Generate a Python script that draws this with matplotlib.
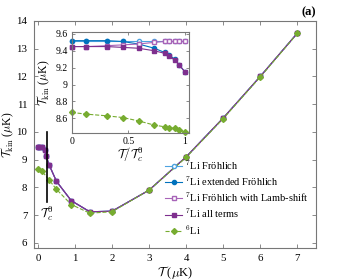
import matplotlib
matplotlib.use('Agg')
import matplotlib.pyplot as plt

plt.rcParams['font.family'] = 'serif'
plt.rcParams['font.serif'] = ['Liberation Serif', 'DejaVu Serif']
plt.rcParams['mathtext.fontset'] = 'cm'

# main panel data (T in muK)
T_li7 = [0, 0.04, 0.1, 0.18, 0.22, 0.3, 0.5, 0.9, 1.4, 2, 3, 4, 5, 6, 7]
li7_froh = [9.45, 9.45, 9.45, 9.36, 9.13, 8.82, 8.22, 7.52, 7.12, 7.14, 7.9, 9.1, 10.5, 12.0, 13.56]
li7_ext = [9.45, 9.45, 9.45, 9.36, 9.13, 8.82, 8.22, 7.52, 7.12, 7.14, 7.9, 9.1, 10.5, 12.0, 13.56]
li7_lamb = [9.45, 9.45, 9.45, 9.36, 9.13, 8.82, 8.22, 7.52, 7.12, 7.14, 7.9, 9.1, 10.5, 12.0, 13.56]
li7_all = [9.45, 9.45, 9.45, 9.36, 9.13, 8.82, 8.22, 7.52, 7.12, 7.14, 7.9, 9.1, 10.5, 12.0, 13.56]
T_li6 = [0, 0.1, 0.3, 0.5, 0.9, 1.4, 2, 3, 4, 5, 6, 7]
li6 = [8.68, 8.6, 8.27, 7.93, 7.38, 7.07, 7.12, 7.9, 9.08, 10.48, 11.98, 13.55]
Tc0 = 0.24

# inset data (T / Tc0)
r = [0, 0.13, 0.31, 0.45, 0.59, 0.73, 0.82, 0.86, 0.91, 0.95, 1.0]
in_froh = [9.52, 9.52, 9.52, 9.52, 9.52, 9.52, 9.52, 9.52, 9.52, 9.52, 9.52]
in_ext = [9.52, 9.52, 9.52, 9.51, 9.48, 9.43, 9.38, 9.35, 9.30, 9.23, 9.15]
in_lamb = [9.45, 9.45, 9.46, 9.47, 9.48, 9.50, 9.51, 9.51, 9.51, 9.51, 9.51]
in_all = [9.45, 9.45, 9.45, 9.44, 9.43, 9.40, 9.37, 9.34, 9.29, 9.23, 9.15]
in_li6 = [8.67, 8.65, 8.63, 8.61, 8.57, 8.52, 8.50, 8.49, 8.48, 8.46, 8.44]

c_froh = '#4DA3E0'
c_ext = '#0072BD'
c_lamb = '#A864B8'
c_all = '#7E2F8E'
c_li6 = '#77AC30'
spine = '#777777'

labels = [r'$^7$Li Fröhlich', r'$^7$Li extended Fröhlich',
          r'$^7$Li Fröhlich with Lamb-shift', r'$^7$Li all terms', r'$^6$Li']

fig = plt.figure(figsize=(3.49, 2.8), dpi=100)
ax = fig.add_axes([0.098, 0.113, 0.807, 0.812])

ax.plot(T_li7, li7_froh, '-o', color=c_froh, mfc='white', ms=3, lw=0.8, label=labels[0])
ax.plot(T_li7, li7_ext, '-o', color=c_ext, ms=3, lw=0.8, label=labels[1])
ax.plot(T_li7, li7_lamb, '-s', color=c_lamb, mfc='white', ms=3, lw=0.8, label=labels[2])
ax.plot(T_li7, li7_all, '-s', color=c_all, ms=3, lw=0.8, label=labels[3])
ax.plot(T_li6, li6, '--D', color=c_li6, ms=3, lw=0.8, label=labels[4])
ax.plot([Tc0, Tc0], [7.48, 10.0], color='black', lw=1.2)
ax.text(Tc0, 7.38, r'$\mathcal{T}_c^0$', ha='center', va='top', fontsize=9)

ax.set_xlim(-0.1, 7.5)
ax.set_ylim(5.8, 14)
ax.set_xticks(range(0, 8))
ax.set_yticks(range(6, 15))
ax.tick_params(direction='in', top=True, right=True, labelsize=7.8, length=3,
               color=spine, width=0.6)
ax.tick_params(axis='x', pad=4)
ax.tick_params(axis='y', pad=5)
for s in ax.spines.values():
    s.set_color(spine)
    s.set_linewidth(0.8)
ax.set_xlabel(r'$\mathcal{T}$ ($\mu$K)', fontsize=9)
ax.set_ylabel(r'$\mathcal{T}_{\rm kin}$ ($\mu$K)', fontsize=8.5)
ax.xaxis.set_label_coords(0.5, -0.068)
ax.yaxis.set_label_coords(-0.064, 0.5)
ax.text(1.0, 1.01, '(a)', transform=ax.transAxes, ha='right', va='bottom',
        fontsize=9, fontweight='bold')

leg = ax.legend(loc='lower right', frameon=False, fontsize=7.5, handlelength=1.6,
                handletextpad=0.3, labelspacing=0.25, borderaxespad=0.3,
                bbox_to_anchor=(1.0, 0.02))

ins = fig.add_axes([0.2054, 0.526, 0.336, 0.359])
ins.plot(r, in_froh, '-o', color=c_froh, mfc='white', ms=3, lw=0.8, clip_on=False)
ins.plot(r, in_ext, '-o', color=c_ext, ms=3, lw=0.8, clip_on=False)
ins.plot(r, in_lamb, '-s', color=c_lamb, mfc='white', ms=3, lw=0.8, clip_on=False)
ins.plot(r, in_all, '-s', color=c_all, ms=3, lw=0.8, clip_on=False)
ins.plot(r, in_li6, '--D', color=c_li6, ms=3, lw=0.8, clip_on=False)
ins.set_xlim(0, 1.035)
ins.set_ylim(8.43, 9.62)
ins.set_xticks([0, 0.5, 1])
ins.set_xticklabels(['0', '0.5', '1'])
ins.set_yticks([8.6, 8.8, 9.0, 9.2, 9.4, 9.6])
ins.set_yticklabels(['8.6', '8.8', '9', '9.2', '9.4', '9.6'])
ins.tick_params(direction='in', top=True, right=True, labelsize=7, length=2.5,
                color=spine, width=0.6, pad=3)
for s in ins.spines.values():
    s.set_color(spine)
    s.set_linewidth(0.8)
ins.set_xlabel(r'$\mathcal{T}/\mathcal{T}_c^0$', fontsize=9, labelpad=0)
ins.set_ylabel(r'$\mathcal{T}_{\rm kin}$ ($\mu$K)', fontsize=8.5, labelpad=2)

fig.savefig('out.png', dpi=100)
